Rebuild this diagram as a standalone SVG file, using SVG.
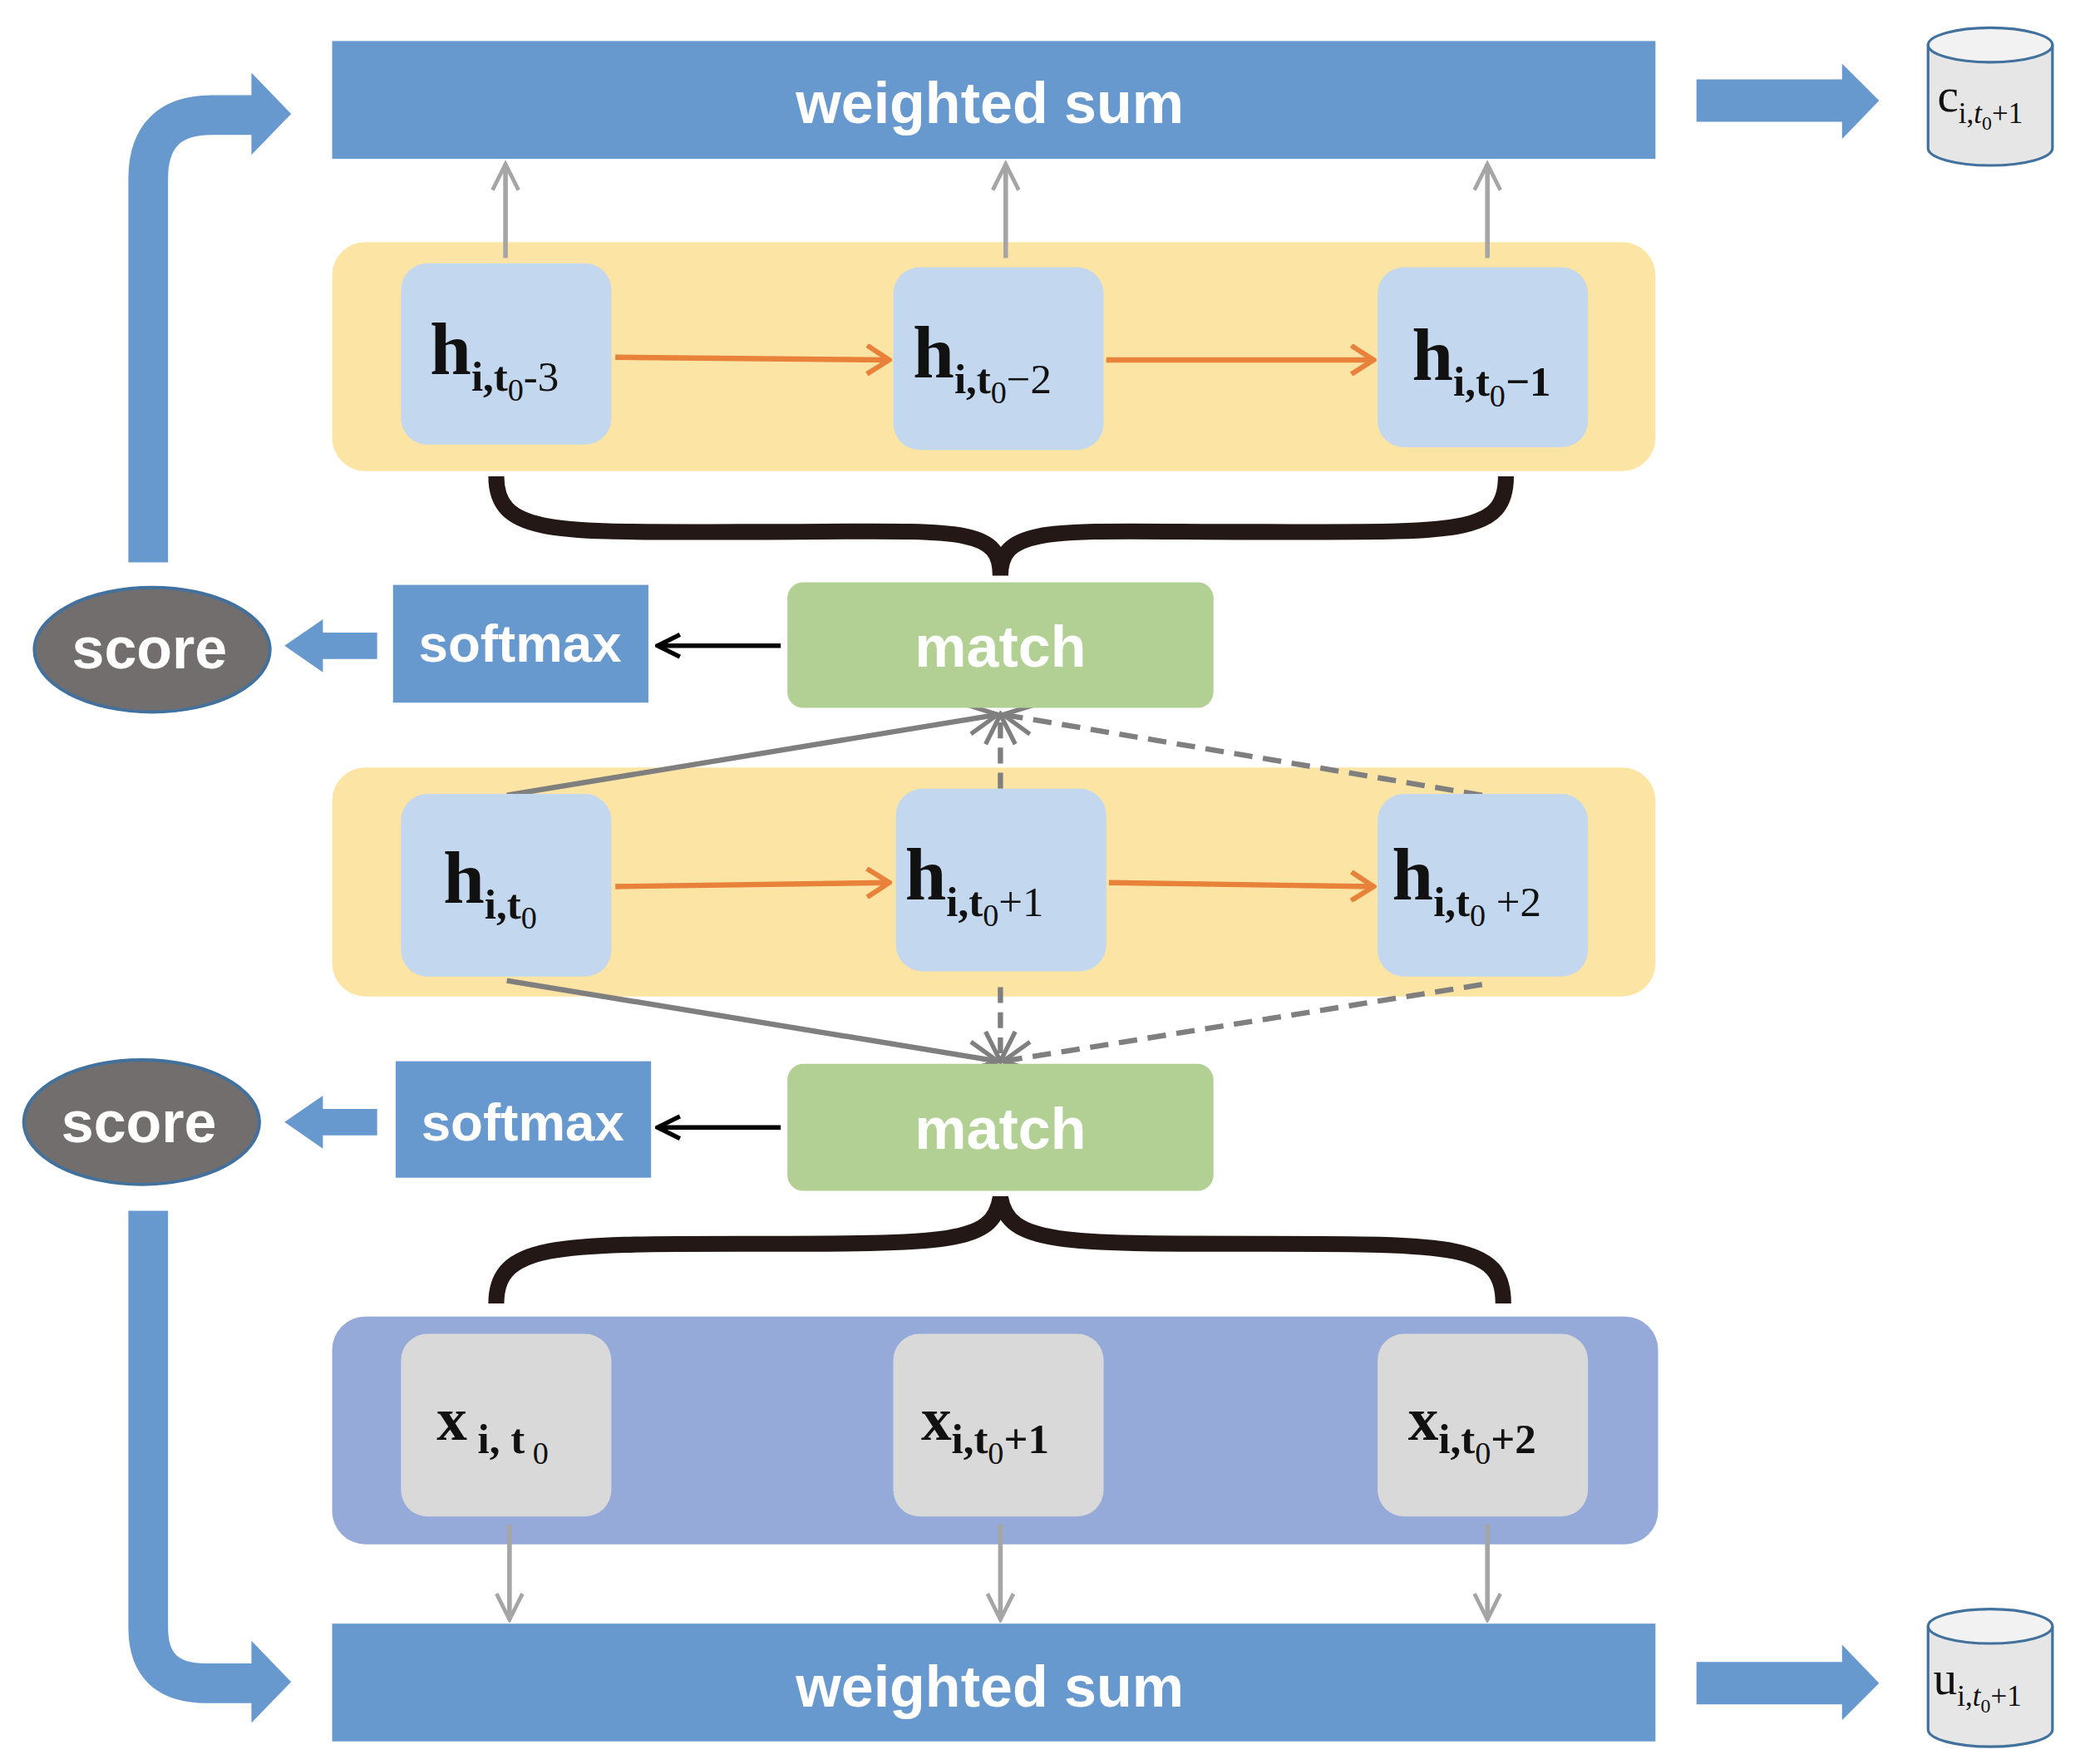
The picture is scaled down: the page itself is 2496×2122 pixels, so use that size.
<svg xmlns="http://www.w3.org/2000/svg" width="2496" height="2122" viewBox="0 0 2496 2122">
<defs>
<style>
.wb{fill:#6899CE}
.wt{font-family:"Liberation Sans",Arial,sans-serif;font-weight:bold;fill:#fff;text-anchor:middle}
.hn{fill:#C3D7EE}
.xn{fill:#D9D9D9}
.lab{font-family:"Liberation Serif","Times New Roman",serif;font-weight:bold;fill:#111}
.lcyl{font-family:"Liberation Serif","Times New Roman",serif;font-weight:normal;fill:#111}
.or{stroke:#E8813A;stroke-width:4;fill:none}
.gy{stroke:#A5A5A5;stroke-width:3.5;fill:none}
.dk{stroke:#7F7F7F;stroke-width:4;fill:none}
.br{stroke:#231815;stroke-width:12;fill:none}
.bl{stroke:#6899CE;stroke-width:30;fill:none}
</style>
<marker id="ao" viewBox="0 0 10 10" refX="9" refY="5" markerWidth="24" markerHeight="24" orient="auto" markerUnits="userSpaceOnUse"><path d="M2,0.5 L9,5 L2,9.5" fill="none" stroke="#E8813A" stroke-width="1.6"/></marker>
<marker id="ag" viewBox="0 0 10 10" refX="9" refY="5" markerWidth="7" markerHeight="7" orient="auto"><path d="M1,1 L9,5 L1,9" fill="none" stroke="#A5A5A5" stroke-width="1.2"/></marker>
<marker id="ad" viewBox="0 0 10 10" refX="9" refY="5" markerWidth="7" markerHeight="7" orient="auto"><path d="M1,1 L9,5 L1,9" fill="none" stroke="#7F7F7F" stroke-width="1.2"/></marker>
<marker id="ak" viewBox="0 0 10 10" refX="9" refY="5" markerWidth="6" markerHeight="6" orient="auto"><path d="M1,1 L9,5 L1,9" fill="none" stroke="#000" stroke-width="1.6"/></marker>
</defs>
<rect width="2496" height="2122" fill="#fff"/>
<g transform="scale(1.5918)">
<g id="panels">
<rect x="251" y="183" width="1000" height="173" rx="25" fill="#FCE5A4"/>
<rect x="251" y="580" width="1000" height="173" rx="25" fill="#FCE5A4"/>
<rect x="251" y="995" width="1002" height="172" rx="25" fill="#95AAD8"/>
</g>
<g id="connectors">
<line class="gy" x1="382" y1="195" x2="382" y2="124" marker-end="url(#ag)"/>
<line class="gy" x1="760" y1="195" x2="760" y2="124" marker-end="url(#ag)"/>
<line class="gy" x1="1124" y1="195" x2="1124" y2="124" marker-end="url(#ag)"/>
<line class="or" x1="465" y1="270" x2="672" y2="272" marker-end="url(#ao)"/>
<line class="or" x1="836" y1="272" x2="1038" y2="272" marker-end="url(#ao)"/>
<line class="or" x1="465" y1="670" x2="672" y2="667" marker-end="url(#ao)"/>
<line class="or" x1="838" y1="667" x2="1038" y2="670" marker-end="url(#ao)"/>
<path class="br" d="M375,360 C375,405 420,402 560,402 C720,402 756,395 756,435 C756,395 800,402 950,402 C1100,402 1138,405 1138,360"/>
<path class="br" d="M375,985 C375,940 420,940 560,940 C720,940 750,940 756,905 C762,940 800,940 950,940 C1100,940 1136,940 1136,985"/>
<line class="dk" x1="383" y1="601" x2="754" y2="540" marker-end="url(#ad)"/>
<line class="dk" x1="756" y1="596" x2="756" y2="540" stroke-dasharray="12,7" marker-end="url(#ad)"/>
<line class="dk" x1="1120" y1="601" x2="758" y2="540" stroke-dasharray="14,8" marker-end="url(#ad)"/>
<line class="dk" x1="383" y1="741" x2="754" y2="802" marker-end="url(#ad)"/>
<line class="dk" x1="756" y1="746" x2="756" y2="802" stroke-dasharray="12,7" marker-end="url(#ad)"/>
<line class="dk" x1="1120" y1="744" x2="758" y2="802" stroke-dasharray="14,8" marker-end="url(#ad)"/>
<line stroke="#000" stroke-width="3.5" x1="590" y1="488" x2="497" y2="488" marker-end="url(#ak)"/>
<line stroke="#000" stroke-width="3.5" x1="590" y1="852" x2="497" y2="852" marker-end="url(#ak)"/>
<line class="gy" x1="385" y1="1152" x2="385" y2="1224" marker-end="url(#ag)"/>
<line class="gy" x1="756" y1="1152" x2="756" y2="1224" marker-end="url(#ag)"/>
<line class="gy" x1="1124" y1="1152" x2="1124" y2="1224" marker-end="url(#ag)"/>
<path class="wb" d="M285,478 L244,478 L244,468 L215,488 L244,508 L244,498 L285,498 Z"/>
<path class="wb" d="M285,838 L244,838 L244,828 L215,848 L244,868 L244,858 L285,858 Z"/>
<path class="bl" d="M112,425 L112,135 Q112,87 160,87 L192,87"/>
<path class="wb" d="M190,55 L220,86 L190,117 Z"/>
<path class="bl" d="M112,915 L112,1230 Q112,1272 155,1272 L192,1272"/>
<path class="wb" d="M190,1240 L220,1271 L190,1302 Z"/>
<path class="wb" d="M1282,60 L1392,60 L1392,48 L1420,76 L1392,105 L1392,92 L1282,92 Z"/>
<path class="wb" d="M1282,1256 L1392,1256 L1392,1243 L1420,1272 L1392,1300 L1392,1288 L1282,1288 Z"/>
</g>
<g id="ws-top"><rect class="wb" x="251" y="31" width="1000" height="89"/><text class="wt" x="748" y="93" font-size="44">weighted sum</text></g>
<g id="ws-bot"><rect class="wb" x="251" y="1227" width="1000" height="89"/><text class="wt" x="748" y="1290" font-size="44">weighted sum</text></g>
<g id="cyl-c"><path d="M1457,34 L1457,112 A47,13 0 0 0 1551,112 L1551,34" fill="#E6E6E6" stroke="#41719C" stroke-width="2"/><ellipse cx="1504" cy="34" rx="47" ry="13" fill="#F2F2F2" stroke="#41719C" stroke-width="2"/>
<text class="lcyl" x="1464" y="84" font-size="36">c<tspan font-size="22" dy="9">i,<tspan font-style="italic">t</tspan><tspan font-size="15" dy="5">0</tspan><tspan dy="-5">+1</tspan></tspan></text></g>
<g id="cyl-u"><path d="M1457,1229 L1457,1307 A47,13 0 0 0 1551,1307 L1551,1229" fill="#E6E6E6" stroke="#41719C" stroke-width="2"/><ellipse cx="1504" cy="1229" rx="47" ry="13" fill="#F2F2F2" stroke="#41719C" stroke-width="2"/>
<text class="lcyl" x="1461" y="1280" font-size="36">u<tspan font-size="22" dy="9">i,<tspan font-style="italic">t</tspan><tspan font-size="15" dy="5">0</tspan><tspan dy="-5">+1</tspan></tspan></text></g>
<g id="h1"><rect class="hn" x="303" y="199" width="159" height="137" rx="20"/><text class="lab" x="325" y="283" font-size="56">h<tspan font-size="32" dy="12">i,t<tspan font-weight="normal" font-size="24" dy="8">0</tspan><tspan font-weight="normal" dy="-8">-3</tspan></tspan></text></g>
<g id="h2"><rect class="hn" x="675" y="202" width="159" height="138" rx="20"/><text class="lab" x="690" y="285" font-size="56">h<tspan font-size="32" dy="12">i,t<tspan font-weight="normal" font-size="24" dy="8">0</tspan><tspan font-weight="normal" dy="-8">−2</tspan></tspan></text></g>
<g id="h3"><rect class="hn" x="1041" y="202" width="159" height="136" rx="20"/><text class="lab" x="1067" y="287" font-size="56">h<tspan font-size="32" dy="12">i,t<tspan font-weight="normal" font-size="24" dy="8">0</tspan><tspan dy="-8">−1</tspan></tspan></text></g>
<g id="h4"><rect class="hn" x="303" y="600" width="159" height="138" rx="20"/><text class="lab" x="335" y="682" font-size="56">h<tspan font-size="32" dy="12">i,t<tspan font-weight="normal" font-size="24" dy="8">0</tspan></tspan></text></g>
<g id="h5"><rect class="hn" x="677" y="596" width="159" height="138" rx="20"/><text class="lab" x="684" y="680" font-size="56">h<tspan font-size="32" dy="12">i,t<tspan font-weight="normal" font-size="24" dy="8">0</tspan><tspan font-weight="normal" dy="-8">+1</tspan></tspan></text></g>
<g id="h6"><rect class="hn" x="1041" y="600" width="159" height="138" rx="20"/><text class="lab" x="1052" y="680" font-size="56">h<tspan font-size="32" dy="12">i,t<tspan font-weight="normal" font-size="24" dy="8">0</tspan><tspan font-weight="normal" dy="-8"> +2</tspan></tspan></text></g>
<g id="x1"><rect class="xn" x="303" y="1008" width="159" height="138" rx="20"/><text class="lab" x="330" y="1088" font-size="46">x<tspan font-size="32" dy="10"> i, t<tspan font-weight="normal" font-size="24" dy="8"> 0</tspan></tspan></text></g>
<g id="x2"><rect class="xn" x="675" y="1008" width="159" height="138" rx="20"/><text class="lab" x="696" y="1088" font-size="46">x<tspan font-size="32" dy="10">i,t<tspan font-weight="normal" font-size="24" dy="8">0</tspan><tspan dy="-8">+1</tspan></tspan></text></g>
<g id="x3"><rect class="xn" x="1041" y="1008" width="159" height="138" rx="20"/><text class="lab" x="1064" y="1088" font-size="46">x<tspan font-size="32" dy="10">i,t<tspan font-weight="normal" font-size="24" dy="8">0</tspan><tspan dy="-8">+2</tspan></tspan></text></g>
<g id="match1"><rect x="595" y="440" width="322" height="95" rx="12" fill="#B2CF94"/><text class="wt" x="756" y="504" font-size="44">match</text></g>
<g id="match2"><rect x="595" y="804" width="322" height="96" rx="12" fill="#B2CF94"/><text class="wt" x="756" y="868" font-size="44">match</text></g>
<g id="softmax1"><rect class="wb" x="297" y="442" width="193" height="89"/><text class="wt" x="393" y="500" font-size="40">softmax</text></g>
<g id="softmax2"><rect class="wb" x="299" y="802" width="193" height="88"/><text class="wt" x="395" y="862" font-size="40">softmax</text></g>
<g id="score1"><ellipse cx="115" cy="491" rx="89" ry="47" fill="#736E6E" stroke="#41719C" stroke-width="2.5"/><text class="wt" x="113" y="505" font-size="44">score</text></g>
<g id="score2"><ellipse cx="107" cy="848" rx="89" ry="47" fill="#736E6E" stroke="#41719C" stroke-width="2.5"/><text class="wt" x="105" y="863" font-size="44">score</text></g>
</g>
</svg>
